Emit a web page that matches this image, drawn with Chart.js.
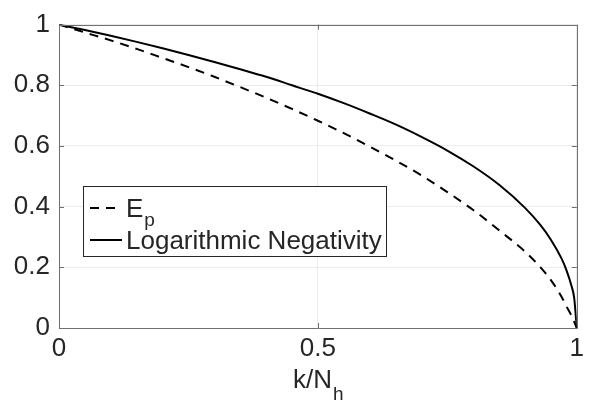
<!DOCTYPE html>
<html>
<head>
<meta charset="utf-8">
<script src="https://cdn.jsdelivr.net/npm/chart.js@4.4.1/dist/chart.umd.min.js"></script>
<style>
  html, body { margin: 0; padding: 0; background: #ffffff; }
  #wrap { width: 589px; height: 405px; }
</style>
</head>
<body>
<div id="wrap"><canvas id="c" width="589" height="405"></canvas></div>
<script>
// ---- data ----
const kOverN = [0, 0.05, 0.10, 0.15, 0.20, 0.25, 0.30, 0.35, 0.40, 0.45, 0.50, 0.55, 0.60, 0.65, 0.70, 0.75, 0.80, 0.85, 0.90, 0.93, 0.95, 0.97, 0.98, 0.99, 0.995, 1];
const epValues = [1, 0.974, 0.948, 0.920, 0.890, 0.860, 0.828, 0.794, 0.759, 0.722, 0.683, 0.642, 0.598, 0.552, 0.503, 0.448, 0.389, 0.322, 0.252, 0.200, 0.158, 0.105, 0.072, 0.040, 0.020, 0];
const lnValues = [1, 0.982, 0.963, 0.943, 0.922, 0.900, 0.877, 0.853, 0.828, 0.800, 0.772, 0.741, 0.707, 0.671, 0.630, 0.585, 0.533, 0.472, 0.396, 0.339, 0.291, 0.231, 0.191, 0.138, 0.099, 0];
const xTickValues = [0, 0.5, 1];
const xTickLabels = ['0', '0.5', '1'];
const yTickValues = [0, 0.2, 0.4, 0.6, 0.8, 1];
const yTickLabels = ['0', '0.2', '0.4', '0.6', '0.8', '1'];
const seriesNames = ['E', 'Logarithmic Negativity'];
const seriesSubs = ['p', ''];
const axisTitleMain = 'k/N';
const axisTitleSub = 'h';

const FONT = '"Liberation Sans", Arial, Helvetica, sans-serif';
const FS = 26;
const FS_SUB = 19;
const TEXT_COLOR = '#262626';
const AXIS_COLOR = '#6f6f6f';
const GRID_COLOR = '#ececec';

const toPts = (ys) => kOverN.map((x, i) => ({ x: x, y: ys[i] }));

const decorPlugin = {
  id: 'decor',
  afterDatasetsDraw(chart) {
    const ctx = chart.ctx;
    const a = chart.chartArea;
    const xs = chart.scales.x, ys = chart.scales.y;
    ctx.save();
    // box
    ctx.strokeStyle = AXIS_COLOR;
    ctx.lineWidth = 1;
    ctx.beginPath();
    ctx.rect(Math.round(a.left) + 0.5, Math.round(a.top) + 0.5, Math.round(a.right - a.left), Math.round(a.bottom - a.top));
    ctx.stroke();
    // inward ticks
    const tl = 5;
    ctx.beginPath();
    xTickValues.forEach(v => {
      const px = Math.round(xs.getPixelForValue(v)) + 0.5;
      ctx.moveTo(px, a.bottom); ctx.lineTo(px, a.bottom - tl);
      ctx.moveTo(px, a.top); ctx.lineTo(px, a.top + tl);
    });
    yTickValues.forEach(v => {
      const py = Math.round(ys.getPixelForValue(v)) + 0.5;
      ctx.moveTo(a.left, py); ctx.lineTo(a.left + tl, py);
      ctx.moveTo(a.right, py); ctx.lineTo(a.right - tl, py);
    });
    ctx.stroke();

    // x axis title with subscript
    ctx.fillStyle = TEXT_COLOR;
    ctx.textBaseline = 'alphabetic';
    ctx.textAlign = 'left';
    ctx.font = FS + 'px ' + FONT;
    const wMain = ctx.measureText(axisTitleMain).width;
    ctx.font = FS_SUB + 'px ' + FONT;
    const wSub = ctx.measureText(axisTitleSub).width;
    const cx = (a.left + a.right) / 2;
    const x0 = cx - (wMain + wSub) / 2;
    ctx.font = FS + 'px ' + FONT;
    ctx.fillText(axisTitleMain, x0, 388);
    ctx.font = FS_SUB + 'px ' + FONT;
    ctx.fillText(axisTitleSub, x0 + wMain + 1, 400);

    // legend
    const lx = 83, ly = 186, lw = 303, lh = 70;
    ctx.fillStyle = '#ffffff';
    ctx.fillRect(lx, ly, lw, lh);
    ctx.strokeStyle = '#262626';
    ctx.lineWidth = 1;
    ctx.strokeRect(lx + 0.5, ly + 0.5, lw, lh);
    const rows = [208, 240];
    chart.data.datasets.forEach((ds, i) => {
      const y = rows[i];
      ctx.strokeStyle = ds.borderColor;
      ctx.lineWidth = ds.borderWidth;
      ctx.setLineDash(ds.borderDash || []);
      ctx.beginPath();
      ctx.moveTo(90, y); ctx.lineTo(122, y);
      ctx.stroke();
      ctx.setLineDash([]);
      ctx.fillStyle = TEXT_COLOR;
      ctx.font = FS + 'px ' + FONT;
      ctx.fillText(seriesNames[i], 126, y + 9);
      if (seriesSubs[i]) {
        const w = ctx.measureText(seriesNames[i]).width;
        ctx.font = FS_SUB + 'px ' + FONT;
        ctx.fillText(seriesSubs[i], 126 + w + 1, y + 18);
      }
    });
    ctx.restore();
  }
};

new Chart(document.getElementById('c'), {
  type: 'line',
  data: {
    datasets: [
      {
        label: 'E_p',
        data: toPts(epValues),
        borderColor: '#000000',
        borderWidth: 2,
        borderDash: [9, 7],
        pointRadius: 0,
        fill: false,
        cubicInterpolationMode: 'monotone'
      },
      {
        label: 'Logarithmic Negativity',
        data: toPts(lnValues),
        borderColor: '#000000',
        borderWidth: 2,
        pointRadius: 0,
        fill: false,
        cubicInterpolationMode: 'monotone'
      }
    ]
  },
  options: {
    responsive: false,
    animation: false,
    devicePixelRatio: 1,
    layout: { padding: { top: 13, right: 11, left: 0, bottom: 0 } },
    plugins: { legend: { display: false }, tooltip: { enabled: false }, title: { display: false } },
    scales: {
      x: {
        type: 'linear',
        min: 0, max: 1,
        afterBuildTicks: (s) => { s.ticks = xTickValues.map(v => ({ value: v })); },
        afterFit: (s) => { s.height = 77; },
        grid: { color: GRID_COLOR, drawTicks: false, lineWidth: 1 },
        border: { display: false },
        ticks: {
          font: { family: FONT, size: FS }, color: TEXT_COLOR, padding: 5, maxRotation: 0, autoSkip: false,
          callback: (v) => xTickLabels[xTickValues.indexOf(v)]
        }
      },
      y: {
        type: 'linear',
        min: 0, max: 1,
        afterBuildTicks: (s) => { s.ticks = yTickValues.map(v => ({ value: v })); },
        afterFit: (s) => { s.width = 59; },
        grid: { color: GRID_COLOR, drawTicks: false, lineWidth: 1 },
        border: { display: false },
        ticks: {
          font: { family: FONT, size: FS }, color: TEXT_COLOR, padding: 9, autoSkip: false,
          callback: (v) => yTickLabels[yTickValues.indexOf(v)]
        }
      }
    }
  },
  plugins: [decorPlugin]
});
</script>
</body>
</html>
